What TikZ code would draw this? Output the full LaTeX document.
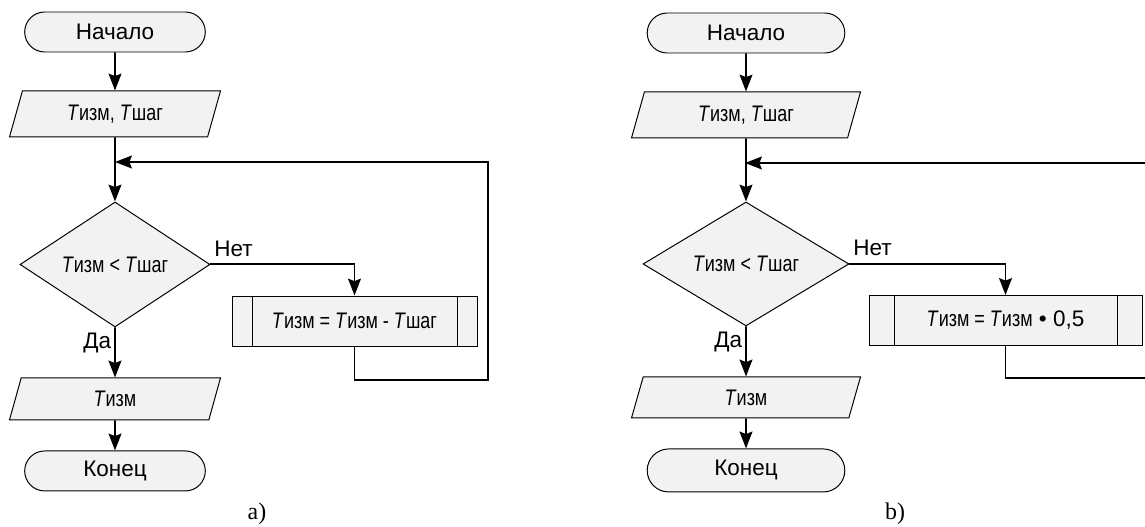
\documentclass[tikz,border=0pt]{standalone}
\usepackage{fontspec}
\setsansfont{Liberation Sans}
\newfontfamily\narrowsf{Liberation Sans}[FakeStretch=0.8]
\newfontfamily\capfont{Liberation Serif}
\usetikzlibrary{arrows.meta,positioning,shapes.geometric,shapes.misc}
\definecolor{blockfill}{HTML}{F2F2F2}
\newcommand{\Tv}[1]{\textit{T}#1}
\tikzset{%
  >={Stealth[length=0.42cm,width=0.32cm,inset=0.06cm]},
  % Specifications for style of blocks:
          base/.style = {draw=black, line width=0.7pt, fill=blockfill,
                         text centered, font=\sffamily\fontsize{16}{19}\selectfont},
      terminal/.style = {base, rounded rectangle, minimum width=#1,
                         minimum height=1cm},
       ioblock/.style = {base, trapezium, trapezium left angle=65,
                         trapezium right angle=115, trapezium stretches body,
                         minimum width=#1, minimum height=1.15cm},
      decision/.style = {base, diamond, minimum width=#1,
                         minimum height=3.1cm, inner sep=0pt},
    subroutine/.style 2 args = {base, rectangle, minimum width=#1,
                         minimum height=1.25cm,
                         path picture={\draw[line width=0.7pt]
                           ([xshift=#2]path picture bounding box.north west) --
                           ([xshift=#2]path picture bounding box.south west)
                           ([xshift=-#2]path picture bounding box.north east) --
                           ([xshift=-#2]path picture bounding box.south east);}},
          line/.style = {line width=1.4pt},
     labeltext/.style = {font=\sffamily\fontsize{16}{19}\selectfont, inner sep=2pt},
       caption/.style = {font=\capfont\fontsize{17}{20}\selectfont},
}
\begin{document}
\begin{tikzpicture}
  \clip (0,0) rectangle (28.625,-13.175);
  % Chart a)
  \node (startA) [terminal=4.75cm] at (2.875,-0.8)     {Начало};
  \node (inA)    [ioblock=5.275cm, below=0.95cm of startA]
                                      {{\narrowsf\Tv{изм}, \Tv{шаг}}};
  \node (decA)   [decision=4.75cm, minimum height=3.125cm, below=1.6cm of inA]
                                      {{\narrowsf\Tv{изм} < \Tv{шаг}}};
  \node (outA)   [ioblock=5.275cm, minimum height=1.05cm, below=1.25cm of decA]
                                      {{\narrowsf\Tv{изм}}};
  \node (endA)   [terminal=4.75cm, below=0.75cm of outA]  {Конец};
  \node (procA)  [subroutine={6.125cm}{0.5cm}] at (8.8625,-8.025)
                                      {{\narrowsf\Tv{изм} = \Tv{изм} - \Tv{шаг}}};
  \coordinate (joinA) at (2.875,-4.05);
  \coordinate (backA) at (12.2,-9.5);
  \node (capA)   [caption] at (6.425,-12.85) {a)};
  % Connectors of chart a)
  \draw[line,->] (startA) -- (inA);
  \draw[line,->]    (inA) -- (decA);
  \draw[line,->] (decA.east) node[labeltext, anchor=south west, yshift=0.1cm] {Нет}
                            -| (procA.north);
  \draw[line,->]   (decA) -- node[labeltext, left, pos=0.32] {Да} (outA);
  \draw[line,->]   (outA) -- (endA);
  \draw[line,->] (procA.south) |- (backA) |- (joinA);
  % Chart b)
  \node (startB) [terminal=5.175cm] at (18.65,-0.825)  {Начало};
  \node (inB)    [ioblock=5.725cm, below=0.95cm of startB]
                                      {{\narrowsf\Tv{изм}, \Tv{шаг}}};
  \node (decB)   [decision=5.15cm, below=1.575cm of inB]
                                      {{\narrowsf\Tv{изм} < \Tv{шаг}}};
  \node (outB)   [ioblock=5.725cm, minimum height=1.025cm, below=1.25cm of decB]
                                      {{\narrowsf\Tv{изм}}};
  \node (endB)   [terminal=5.175cm, minimum height=1.075cm, below=0.75cm of outB]
                                                          {Конец};
  \node (procB)  [subroutine={6.825cm}{0.625cm}] at (25.1375,-8.0125)
                                      {{\narrowsf\Tv{изм} = \Tv{изм}} \textbullet{} 0,5};
  \coordinate (joinB) at (18.625,-4.075);
  \coordinate (backB) at (29.2,-9.45);
  \node (capB)   [caption] at (22.375,-12.85) {b)};
  % Connectors of chart b)
  \draw[line,->] (startB) -- (inB);
  \draw[line,->]    (inB) -- (decB);
  \draw[line,->] (decB.east) node[labeltext, anchor=south west, yshift=0.1cm] {Нет}
                            -| (procB.north);
  \draw[line,->]   (decB) -- node[labeltext, left, pos=0.32] {Да} (outB);
  \draw[line,->]   (outB) -- (endB);
  \draw[line,->] (procB.south) |- (backB) |- (joinB);
\end{tikzpicture}
\end{document}
